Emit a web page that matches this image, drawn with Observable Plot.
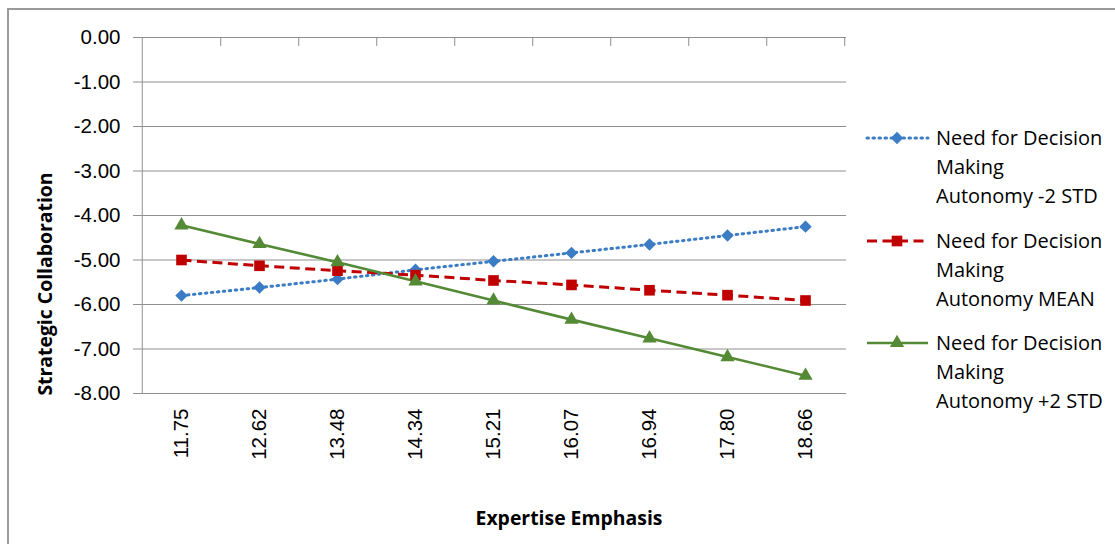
<!DOCTYPE html>
<html>
<head>
<meta charset="utf-8">
<script src="https://cdn.jsdelivr.net/npm/d3@7"></script>
<script src="https://cdn.jsdelivr.net/npm/@observablehq/plot@0.6"></script>
<style>
  html, body { margin: 0; padding: 0; background: #fff; }
  #wrap { position: relative; width: 1115px; height: 544px; overflow: hidden; }
  #frame { position: absolute; left: 7px; top: 8px; width: 1200px; height: 600px;
           border-top: 2px solid #9a9a9a; border-left: 2px solid #9a9a9a; box-sizing: border-box; }
  .title { position: absolute; font-family: "Open Sans", sans-serif; font-weight: 700; font-size: 19.4px; color: #000; white-space: nowrap; }
  #ytitle { left: 44px; top: 284px; transform: translate(-50%, -50%) rotate(-90deg); }
  #xtitle { left: 569px; top: 517px; transform: translate(-50%, -50%); }
  #legend { position: absolute; left: 860px; top: 120px; }
</style>
</head>
<body>
<div id="wrap">
  <div id="frame"></div>
  <div id="chart"></div>
  <div id="ytitle" class="title">Strategic Collaboration</div>
  <div id="xtitle" class="title">Expertise Emphasis</div>
  <div id="legend"></div>
</div>
<script>
// ---- data ----
const categories = ["11.75", "12.62", "13.48", "14.34", "15.21", "16.07", "16.94", "17.80", "18.66"];
const seriesNames = [
  "Need for Decision Making Autonomy -2 STD",
  "Need for Decision Making Autonomy MEAN",
  "Need for Decision Making Autonomy +2 STD"
];
const legendLines = [
  ["Need for Decision", "Making", "Autonomy -2 STD"],
  ["Need for Decision", "Making", "Autonomy MEAN"],
  ["Need for Decision", "Making", "Autonomy +2 STD"]
];
const lowValues  = [-5.80, -5.62, -5.43, -5.22, -5.03, -4.84, -4.65, -4.45, -4.25];
const meanValues = [-5.00, -5.13, -5.24, -5.34, -5.46, -5.56, -5.68, -5.79, -5.91];
const highValues = [-4.22, -4.64, -5.05, -5.48, -5.91, -6.34, -6.76, -7.18, -7.60];
const yTicks = [0, -1, -2, -3, -4, -5, -6, -7, -8];

// ---- styles ----
const styles = [
  {color: "#3b7cc4", dash: "1.5,4.5", width: 3, cap: "round", symbol: "diamond2", r: 5.6},
  {color: "#c00000", dash: "10,5.5", width: 3, cap: "butt", symbol: "square", r: 6.0},
  {color: "#548a35", dash: null, width: 2.6, cap: "butt", symbol: "triangle", r: 5.3}
];

const allValues = [lowValues, meanValues, highValues];
const rows = [];
allValues.forEach((vals, s) => vals.forEach((v, i) => rows.push({series: seriesNames[s], s, cat: categories[i], value: v})));

const W = 1115, H = 544;
const mL = 140, mR = W - 846, mT = 37, mB = H - 393;
const step = (W - mL - mR) / categories.length;

const marks = [
  Plot.gridY(yTicks, {stroke: "#8f8f8f", strokeOpacity: 1, strokeWidth: 1}),
  Plot.ruleX([0], {x: () => categories[0], y1: 0, y2: -8, dx: -step / 2, stroke: "#8f8f8f"}),
  Plot.ruleX(categories, {x: d => d, y1: 0, y2: -0.2, dx: step / 2, stroke: "#8f8f8f"}),
  Plot.axisY(yTicks, {tickFormat: d => d.toFixed(2), tickSize: 7, tickPadding: 13, fontSize: 20.5,
    fontFamily: "Liberation Sans, Arial, sans-serif", stroke: "#8f8f8f", label: null}),
  Plot.axisX({anchor: "bottom", tickSize: 0, tickPadding: 15, tickRotate: -90, fontSize: 20.5,
    fontFamily: "Liberation Sans, Arial, sans-serif", label: null})
];
styles.forEach((st, s) => {
  const data = rows.filter(d => d.s === s);
  marks.push(Plot.line(data, {x: "cat", y: "value", stroke: st.color, strokeWidth: st.width,
    strokeDasharray: st.dash, strokeLinecap: st.cap}));
});
styles.forEach((st, s) => {
  const data = rows.filter(d => d.s === s);
  marks.push(Plot.dot(data, {x: "cat", y: "value", symbol: () => st.symbol, fill: st.color, stroke: "none", r: st.r}));
});

const chart = Plot.plot({
  width: W, height: H,
  marginLeft: mL, marginRight: mR, marginTop: mT, marginBottom: mB,
  style: {background: "transparent", color: "#000", overflow: "visible"},
  x: {type: "point", domain: categories, padding: 0.5, axis: null},
  y: {domain: [-8, 0], axis: null},
  symbol: {type: "identity"},
  marks
});
chart.style.position = "absolute";
chart.style.left = "0px";
chart.style.top = "0px";
document.getElementById("chart").appendChild(chart);

// ---- legend ----
const entryTops = [138, 241, 343];
const lg = d3.select("#legend").append("svg").attr("width", 255).attr("height", 300)
  .style("position", "absolute").style("left", "0px").style("top", "0px");
const symMap = {diamond2: d3.symbolDiamond2, square: d3.symbolSquare, triangle: d3.symbolTriangle};
styles.forEach((st, s) => {
  const cy = entryTops[s] - 120;
  lg.append("line").attr("x1", 7).attr("x2", 68).attr("y1", cy).attr("y2", cy)
    .attr("stroke", st.color).attr("stroke-width", st.width)
    .attr("stroke-dasharray", st.dash).attr("stroke-linecap", st.cap);
  lg.append("path").attr("transform", `translate(37,${cy})`)
    .attr("d", d3.symbol(symMap[st.symbol], Math.PI * st.r * st.r)())
    .attr("fill", st.color);
  const t = lg.append("text").attr("x", 76).attr("y", cy)
    .attr("font-family", "Open Sans, sans-serif").attr("font-size", 20).attr("fill", "#000");
  legendLines[s].forEach((line, k) => {
    t.append("tspan").attr("x", 76).attr("y", cy + k * 29).attr("dy", "0.36em").text(line);
  });
});
</script>
</body>
</html>
